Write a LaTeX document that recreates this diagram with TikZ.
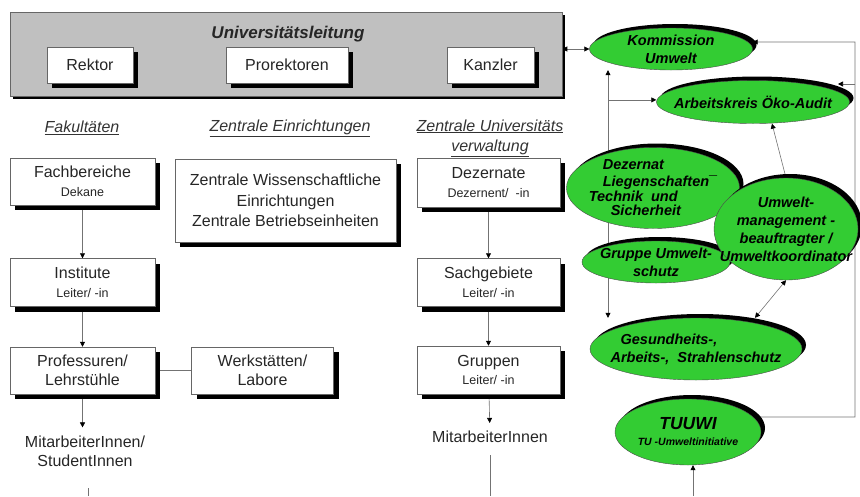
\documentclass[tikz,border=0pt]{standalone}
\usepackage{fontspec}
\setmainfont{Liberation Sans}
\usetikzlibrary{arrows.meta,positioning,calc,shapes.geometric,shadows,backgrounds}
\definecolor{umweltgruen}{RGB}{51,204,51}
\definecolor{leitgrau}{RGB}{192,192,192}
\newcommand{\kleintext}[1]{{\fontsize{12.5}{15}\selectfont #1}}

\begin{document}
\begin{tikzpicture}[
    x=1pt, y=-1pt,
    conn/.style={draw=black!55, line width=0.6pt},
    arrow/.style={conn, -{Triangle[length=5pt, width=5pt, color=black]}},
    biarrow/.style={conn, {Triangle[length=5pt, width=5pt, color=black]}-{Triangle[length=5pt, width=5pt, color=black]}},
    orgbox/.style={draw=black!60, line width=0.5pt, fill=white, align=center, inner sep=0pt,
        text=black!85, font=\fontsize{16}{18.5}\selectfont,
        drop shadow={shadow xshift=5pt, shadow yshift=-5pt, fill=black, opacity=1}},
    leitbox/.style={draw=black!60, line width=0.5pt, fill=leitgrau, inner sep=0pt,
        drop shadow={shadow xshift=3pt, shadow yshift=-3pt, fill=black, opacity=1}},
    head/.style={text=black!80, font=\fontsize{16}{20}\selectfont\itshape, align=center},
    plain/.style={text=black!85, font=\fontsize{16}{19}\selectfont, align=center, inner ysep=8pt},
    greenell/.style={ellipse, draw=black!70, line width=0.4pt, fill=umweltgruen,
        inner xsep=-60pt, inner ysep=-36pt,
        align=center, font=\fontsize{14.5}{18}\selectfont\bfseries\itshape,
        drop shadow={shadow xshift=4pt, shadow yshift=4pt, fill=black, opacity=1}}
]
\useasboundingbox (0,0) rectangle (860,496);

% Leitung
\node[leitbox, minimum width=552pt, minimum height=84pt] (ul) at (286,54) {};
\node[font=\fontsize{17}{20}\selectfont\bfseries\itshape, text=black!85] (ultitle) at (288,34) {Universitätsleitung};
\node[orgbox, minimum width=86pt, minimum height=36pt] (rektor) at (90,65) {Rektor};
\node[orgbox, minimum width=122pt, minimum height=36pt] (prorek) at (287,65) {Prorektoren};
\node[orgbox, minimum width=87pt, minimum height=36pt] (kanzler) at (490.5,65) {Kanzler};

% Spaltenkoepfe
\node[head] (fak) at (82,128) {\underline{Fakultäten}};
\node[head] (zein) at (290,128) {\underline{Zentrale Einrichtungen}};
\node[head] (zuv) at (490,138) {\underline{Zentrale Universitäts}\\\underline{verwaltung}};

% Fakultaeten
\node[orgbox, minimum width=145pt, minimum height=47pt] (fb) at (82.5,181.5) {Fachbereiche\\\kleintext{Dekane}};
\node[orgbox, minimum width=145pt, minimum height=48pt, below=53pt of fb] (inst) {Institute\\\kleintext{Leiter/ -in}};
\node[orgbox, minimum width=145pt, minimum height=47pt, below=40pt of inst] (prof) {Professuren/\\Lehrstühle};
\node[orgbox, minimum width=142pt, minimum height=47pt, right=36pt of prof] (werk) {Werkstätten/\\Labore};
\node[plain] (ma1) at (85,451) {MitarbeiterInnen/\\StudentInnen};

% Zentrale Einrichtungen
\node[orgbox, minimum width=221pt, minimum height=83pt, font=\fontsize{16}{20.5}\selectfont] (zwe) at (285.5,200.5)
    {Zentrale Wissenschaftliche\\Einrichtungen\\Zentrale Betriebseinheiten};

% Verwaltung
\node[orgbox, minimum width=143pt, minimum height=49pt] (dez) at (488.5,182.5) {Dezernate\\\kleintext{Dezernent/\ \ -in}};
\node[orgbox, minimum width=143pt, minimum height=48pt, below=51pt of dez] (sach) {Sachgebiete\\\kleintext{Leiter/ -in}};
\node[orgbox, minimum width=143pt, minimum height=48pt, below=39pt of sach] (grp) {Gruppen\\\kleintext{Leiter/ -in}};
\node[plain] (ma2) at (490,437) {MitarbeiterInnen};

% Umweltorganisation
\node[greenell, minimum width=163pt, minimum height=42pt] (kom) at (671,49) {Kommission\\Umwelt};
\node[greenell, minimum width=193pt, minimum height=43pt] (ak) at (753,102) {Arbeitskreis Öko-Audit};
\node[greenell, minimum width=173pt, minimum height=81pt, align=left] (dzl) at (653,188)
    {\hspace{14pt}Dezernat\\[-1pt]\hspace{14pt}Liegenschaften¯\\[-3pt]Technik\ \ und\\[-4pt]\hspace{22pt}Sicherheit};
\node[greenell, minimum width=148pt, minimum height=42pt] (gus) at (656,262) {Gruppe Umwelt-\\schutz};
\node[greenell, minimum width=144pt, minimum height=102pt] (umb) at (786,229)
    {Umwelt-\\management -\\beauftragter /\\Umweltkoordinator};
\node[greenell, minimum width=212pt, minimum height=62pt, align=left] (ges) at (696,349)
    {\hspace{10pt}Gesundheits-,\\Arbeits-,\ \ Strahlenschutz};
\node[greenell, minimum width=146pt, minimum height=66pt] (tuu) at (688,432)
    {{\fontsize{17.5}{20}\selectfont TUUWI}\\[-2pt]{\fontsize{10.5}{12}\selectfont TU -Umweltinitiative}};

% freie Enden
\coordinate (vx) at (608,0);
\coordinate (frtop) at (855,42);
\coordinate (frak) at (855,84);
\coordinate (akin) at (838,84);
\coordinate (frbot) at (855,417);
\coordinate (lfoot1) at (88,488);
\coordinate (lfoot2) at (88,496);
\coordinate (rfoot1) at (490,455);
\coordinate (rfoot2) at (490,496);
\coordinate (tfoot) at (693,496);

\begin{scope}[on background layer]
\draw[arrow] (fb) -- (inst);
\draw[arrow] (inst) -- (prof);
\draw[conn] (prof) -- (werk);
\draw[arrow] (prof.south) -- (prof.south |- ma1.north);
\draw[conn] (lfoot1) -- (lfoot2);
\draw[arrow] (dez) -- (sach);
\draw[arrow] (sach) -- (grp);
\draw[arrow] (grp) -- (ma2);
\draw[conn] (rfoot1) -- (rfoot2);
\draw[biarrow] (kom.west -| ul.east) -- (kom.west);
\draw[biarrow] (kom.south -| vx) -- (ges.north -| vx);
\draw[arrow] ($(kom.south -| vx)!0.12!(ges.north -| vx)$) coordinate (vmid) -- (vmid -| ak.west);
\draw[arrow] (umb.north) -- ($(ak.south)+(19,0)$);
\draw[biarrow] ($(ges.north)+(59,0)$) -- (umb.south);
\draw[arrow] (tuu.13) -- (frbot) -- (frtop) -- (frtop -| kom.east);
\draw[arrow] (frak) -- (akin);
\draw[arrow] (tfoot) -- (tfoot |- tuu.south);
\end{scope}
\end{tikzpicture}
\end{document}
